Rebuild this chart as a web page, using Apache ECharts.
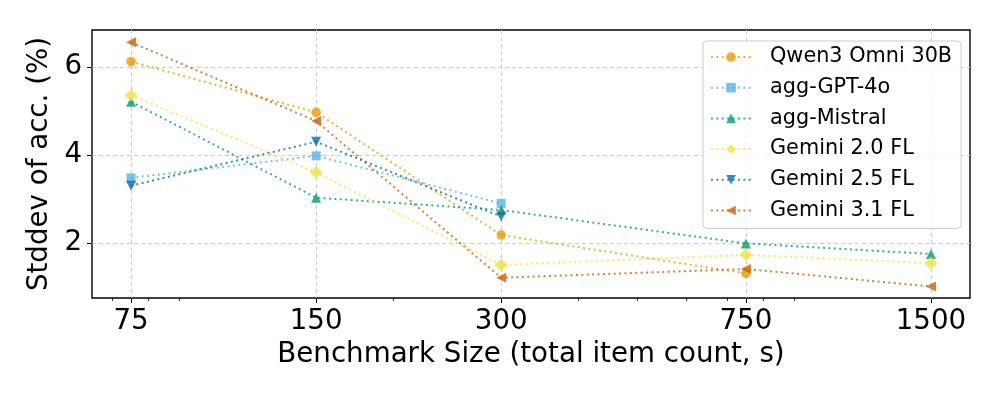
<!DOCTYPE html>
<html>
<head>
<meta charset="utf-8">
<script src="https://cdn.jsdelivr.net/npm/echarts@6/dist/echarts.min.js"></script>
<style>
  html, body { margin: 0; padding: 0; background: #fff; }
  #chart { width: 1000px; height: 400px; }
</style>
</head>
<body>
<div id="chart"></div>
<script>
// 数据
var sizes = [75, 150, 300, 750, 1500];
var minorTicks = [70, 80, 90, 200, 400, 500, 600, 700, 800, 900];
var yTicks = [2, 4, 6];

var qwen = [6.12, 4.97, 2.18, 1.31, null];
var gpt4o = [3.48, 3.98, 2.90, null, null];
var mistral = [5.21, 3.03, 2.75, 1.99, 1.75];
var gemini20 = [5.36, 3.60, 1.50, 1.73, 1.54];
var gemini25 = [3.30, 4.30, 2.60, null, null];
var gemini31 = [6.56, 4.77, 1.21, 1.41, 1.01];

(function() {
    var myChart = echarts.init(document.getElementById("chart"));
    var font = "DejaVu Sans";

    function pairs(vals) {
        var out = [];
        for (var i = 0; i < sizes.length; i++) {
            if (vals[i] != null) out.push([sizes[i], vals[i]]);
        }
        return out;
    }

    function line(name, vals, color, symbol, size, rotate) {
        return {
            name: name,
            type: "line",
            data: pairs(vals),
            symbol: symbol,
            symbolSize: size,
            symbolRotate: rotate || 0,
            showSymbol: true,
            itemStyle: { color: color, opacity: 0.8 },
            lineStyle: { color: color, width: 2, type: [2, 3.4], opacity: 0.8 }
        };
    }

    var gridLine = { show: true, lineStyle: { color: "#cccccc", type: [4, 3], width: 1 } };

    var option = {
        animation: false,
        textStyle: { fontFamily: font },
        grid: {
            left: 92, right: 30, top: 30, bottom: 102,
            show: true, borderColor: "#000", borderWidth: 1.4
        },
        legend: {
            orient: "vertical",
            left: 703, top: 41,
            padding: [5, 9, 7, 7],
            itemWidth: 40, itemHeight: 12, itemGap: 8.7,
            backgroundColor: "rgba(255,255,255,0.8)",
            borderColor: "#cccccc", borderWidth: 1, borderRadius: 4,
            textStyle: { fontFamily: font, fontSize: 20.8, color: "#000", lineHeight: 22, padding: [0, 0, 0, 14] }
        },
        xAxis: [{
            type: "log",
            min: 64.8, max: 1736,
            name: "Benchmark Size (total item count, s)",
            nameLocation: "middle",
            nameGap: 43,
            nameTextStyle: { fontFamily: font, fontSize: 27.7, color: "#000" },
            axisLine: { show: false },
            axisTick: { show: true, customValues: sizes, length: 5, lineStyle: { color: "#000", width: 1 } },
            axisLabel: {
                customValues: sizes, color: "#000", fontSize: 27.7, fontFamily: font, margin: 10,
                formatter: function(v) { return String(v); }
            },
            splitLine: gridLine
        }, {
            type: "log",
            min: 64.8, max: 1736,
            position: "bottom",
            axisLine: { show: false },
            axisTick: { show: true, customValues: minorTicks, length: 3, lineStyle: { color: "#000", width: 0.8 } },
            axisLabel: { show: false },
            splitLine: { show: false }
        }],
        yAxis: {
            type: "value",
            min: 0.75, max: 6.84,
            name: "Stddev of acc. (%)",
            nameLocation: "middle",
            nameGap: 37,
            nameTextStyle: { fontFamily: font, fontSize: 27.7, color: "#000" },
            axisLine: { show: false },
            axisTick: { show: true, customValues: yTicks, length: 5, lineStyle: { color: "#000", width: 1 } },
            axisLabel: { customValues: yTicks, color: "#000", fontSize: 27.7, fontFamily: font, margin: 10 },
            splitLine: gridLine
        },
        series: [
            line("Qwen3 Omni 30B", qwen, "#E69F00", "circle", 9.5),
            line("agg-GPT-4o", gpt4o, "#56B4E9", "rect", 9),
            line("agg-Mistral", mistral, "#009E73", "triangle", 10),
            line("Gemini 2.0 FL", gemini20, "#F0E442", "diamond", 13),
            line("Gemini 2.5 FL", gemini25, "#0072B2", "triangle", 10, 180),
            line("Gemini 3.1 FL", gemini31, "#D55E00", "triangle", 10, 90)
        ]
    };

    myChart.setOption(option);
    window.addEventListener("resize", function() {
        myChart.resize();
    });
})();
</script>
</body>
</html>
